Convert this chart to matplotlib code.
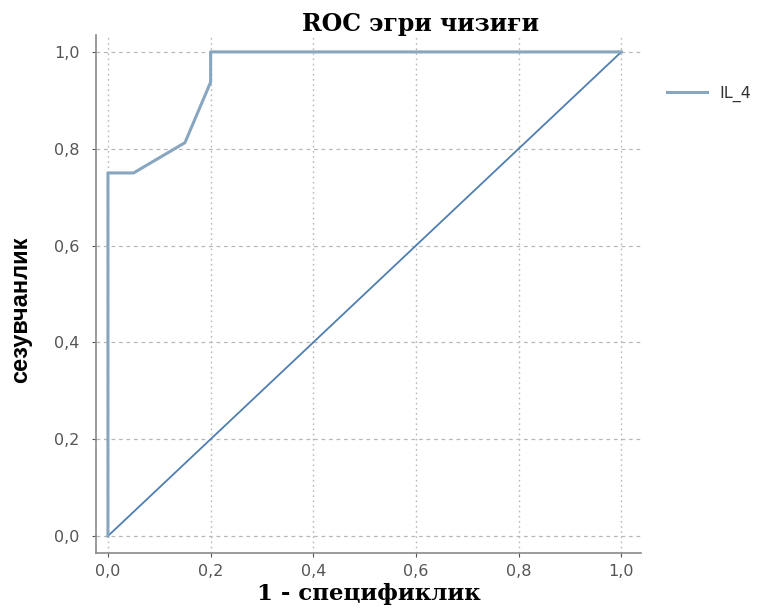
import matplotlib
matplotlib.use("Agg")
import matplotlib.pyplot as plt
from matplotlib.ticker import FuncFormatter

# ROC curve points (1 - specificity, sensitivity)
fpr = [0.0, 0.0, 0.05, 0.15, 0.2, 0.2, 1.0]
tpr = [0.0, 0.75, 0.75, 0.8125, 0.9375, 1.0, 1.0]
ref_line = [0.0, 1.0]
ticks = [0.0, 0.2, 0.4, 0.6, 0.8, 1.0]
series_name = "IL_4"

fig = plt.figure(figsize=(7.69, 6.08), dpi=100)
ax = fig.add_axes([0.125, 0.0905, 0.709, 0.852])

ax.plot(ref_line, ref_line, color="#4f7fb0", lw=1.3, zorder=2)
ax.plot(fpr, tpr, color="#88a6c0", lw=2.2, label=series_name, zorder=3)

ax.set_xlim(-0.023, 1.039)
ax.set_ylim(-0.035, 1.035)
ax.set_xticks(ticks)
ax.set_yticks(ticks)
comma = FuncFormatter(lambda v, p: f"{v:.1f}".replace(".", ","))
ax.xaxis.set_major_formatter(comma)
ax.yaxis.set_major_formatter(comma)
ax.tick_params(colors="#555555", labelsize=11.5, length=3, width=0.8)
ax.tick_params(axis="y", pad=9)
ax.tick_params(axis="x", pad=5)

# vertical grid dotted, horizontal grid dashed
ax.xaxis.grid(True, color="#b8b8b8", linestyle=(0, (1.2, 2.5)), linewidth=1.0)
ax.yaxis.grid(True, color="#b8b8b8", linestyle=(0, (3, 3)), linewidth=0.9)
for s in ["top", "right"]:
    ax.spines[s].set_visible(False)
for s in ["left", "bottom"]:
    ax.spines[s].set_color("#8a8a8a")
    ax.spines[s].set_linewidth(1.2)

fig.text(0.547, 0.960, "ROC эгри чизиғи", fontsize=17, fontweight="bold",
         family=["DejaVu Serif"], ha="center", va="center")
ax.set_xlabel("1 - спецификлик", fontsize=16.5, fontweight="bold",
              family=["DejaVu Serif"])
ax.xaxis.set_label_coords(0.5, -0.058)
ax.set_ylabel("сезувчанлик", fontsize=17, fontweight="bold",
              family=["Liberation Sans Narrow", "Liberation Sans", "DejaVu Sans"])
ax.yaxis.set_label_coords(-0.118, 0.47)

ax.legend(loc="upper left", bbox_to_anchor=(1.02, 0.93), frameon=False,
          fontsize=11.5, handlelength=2.5, labelcolor="#333333")

fig.savefig("out.png", dpi=100)
